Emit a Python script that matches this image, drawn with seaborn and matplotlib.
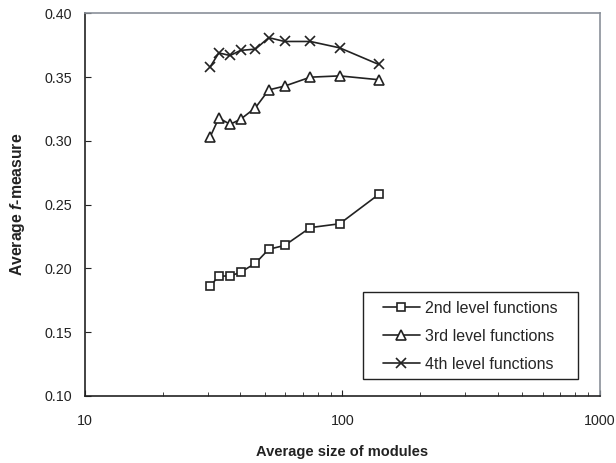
import matplotlib
matplotlib.use("Agg")
import matplotlib.pyplot as plt
from matplotlib.patches import Rectangle
import seaborn as sns
import pandas as pd

sizes = [30.6, 33.1, 36.6, 40.2, 45.9, 51.7, 59.6, 75.0, 97.5, 138.2]
level2 = [0.186, 0.194, 0.194, 0.197, 0.204, 0.215, 0.218, 0.232, 0.235, 0.258]
level3 = [0.303, 0.318, 0.313, 0.317, 0.326, 0.340, 0.343, 0.350, 0.351, 0.348]
level4 = [0.358, 0.369, 0.367, 0.371, 0.372, 0.381, 0.378, 0.378, 0.373, 0.360]
series_names = ["2nd level functions", "3rd level functions", "4th level functions"]
y_ticks = [0.10, 0.15, 0.20, 0.25, 0.30, 0.35, 0.40]
x_ticks = [10, 100, 1000]

sns.set_style("ticks")
plt.rcParams["font.family"] = ["Liberation Sans", "DejaVu Sans"]
plt.rcParams["mathtext.fontset"] = "custom"
plt.rcParams["mathtext.rm"] = "Liberation Sans:bold"
plt.rcParams["mathtext.it"] = "Liberation Sans:italic:bold"
plt.rcParams["mathtext.bf"] = "Liberation Sans:bold"

fig, ax = plt.subplots(figsize=(6.16, 4.63), dpi=100)
fig.subplots_adjust(left=0.138, right=0.974, top=0.971, bottom=0.145)

markers = ["s", "^", "x"]
msizes = [5.5, 7, 7.5]
for vals, name, m, ms in zip([level2, level3, level4], series_names, markers, msizes):
    df = pd.DataFrame({"size": sizes, "f": vals})
    sns.lineplot(data=df, x="size", y="f", ax=ax, color="#222222", linewidth=1.2,
                 marker=m, markersize=ms, markerfacecolor="white",
                 markeredgecolor="#222222", markeredgewidth=1.2, label=name)

ax.set_xscale("log")
ax.set_xlim(10, 1000)
ax.set_ylim(0.10, 0.40)
ax.set_yticks(y_ticks)
ax.set_yticklabels([f"{v:.2f}" for v in y_ticks])
ax.set_xticks(x_ticks)
ax.set_xticklabels([str(v) for v in x_ticks])
ax.tick_params(axis="both", which="both", direction="in", labelsize=10.3, color="#222222",
               labelcolor="#222222")
ax.tick_params(axis="x", which="major", pad=13, length=4)
ax.tick_params(axis="x", which="minor", length=3)
ax.tick_params(axis="y", which="major", pad=9.5, length=4)

for s in ["top", "right"]:
    ax.spines[s].set_visible(True)
    ax.spines[s].set_color("#8a9099")
    ax.spines[s].set_linewidth(1.2)
for s in ["left", "bottom"]:
    ax.spines[s].set_color("#222222")
    ax.spines[s].set_linewidth(1.2)

ax.set_xlabel("Average size of modules", fontsize=10.5, fontweight="bold", labelpad=12,
              color="#222222")
ax.set_ylabel("Average $\\mathit{f}$-measure", fontsize=11.3, fontweight="bold", labelpad=12.5,
              color="#222222")

# legend frame
frame = Rectangle((0.5404, 0.0444), 0.9567 - 0.5404, 0.2727 - 0.0444, transform=ax.transAxes,
                  facecolor="white", edgecolor="#222222", linewidth=1.0, zorder=4)
ax.add_patch(frame)
leg = ax.legend(loc="upper left", bbox_to_anchor=(0.5786, 0.249), frameon=False, fontsize=11.5,
                handlelength=2.3, handletextpad=0.3, borderpad=0, labelspacing=0.82,
                borderaxespad=0)
leg.set_zorder(5)

fig.savefig("out.png", dpi=100)
